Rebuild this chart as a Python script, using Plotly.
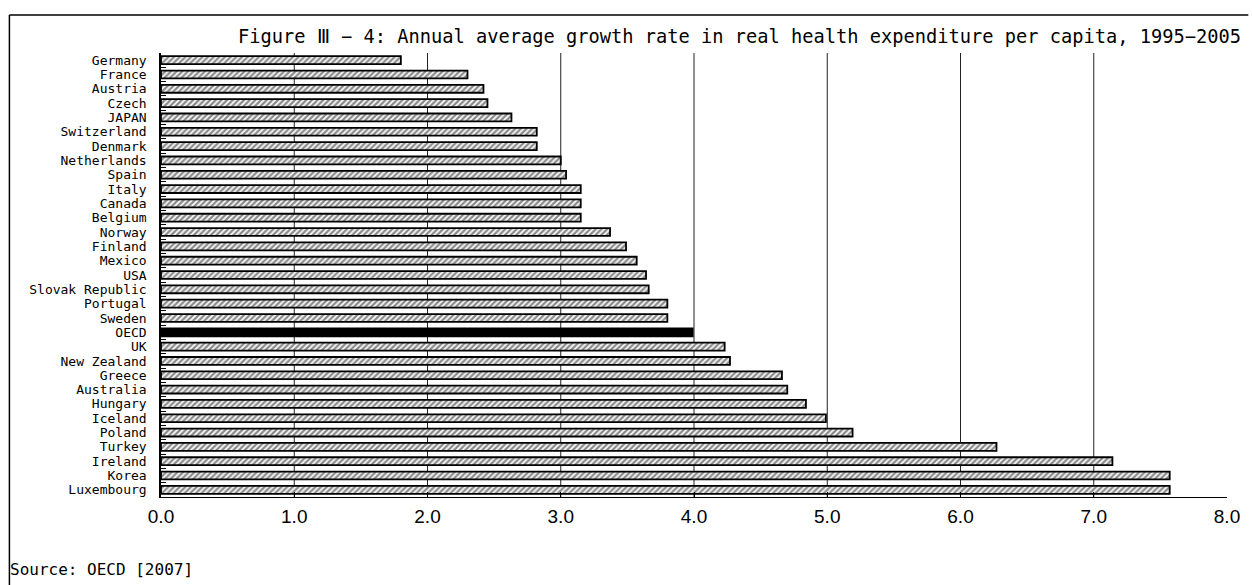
import plotly.graph_objects as go

# Annual average growth rate in real health expenditure per capita, 1995-2005 (%)
countries = [
    "Germany", "France", "Austria", "Czech", "JAPAN", "Switzerland", "Denmark",
    "Netherlands", "Spain", "Italy", "Canada", "Belgium", "Norway", "Finland",
    "Mexico", "USA", "Slovak Republic", "Portugal", "Sweden", "OECD", "UK",
    "New Zealand", "Greece", "Australia", "Hungary", "Iceland", "Poland",
    "Turkey", "Ireland", "Korea", "Luxembourg",
]
growth = [
    1.80, 2.30, 2.42, 2.45, 2.63, 2.82, 2.82,
    3.00, 3.04, 3.15, 3.15, 3.15, 3.37, 3.49,
    3.57, 3.64, 3.66, 3.80, 3.80, 3.99, 4.23,
    4.27, 4.66, 4.70, 4.84, 4.99, 5.19,
    6.27, 7.14, 7.57, 7.57,
]
x_ticks = [0, 1, 2, 3, 4, 5, 6, 7, 8]
grid_ticks = [1, 2, 3, 4, 5, 6, 7]
highlight = "OECD"

MONO_FONT = "DejaVu Sans Mono"
NARROW_FONT = "Liberation Sans Narrow, Liberation Sans, Arial"

hatched = [(c, v) for c, v in zip(countries, growth) if c != highlight]
solid = [(c, v) for c, v in zip(countries, growth) if c == highlight]

fig = go.Figure()
fig.add_trace(go.Bar(
    x=[v for _, v in hatched],
    y=[c for c, _ in hatched],
    orientation="h",
    marker=dict(
        color="white",
        line=dict(color="black", width=1.8),
        pattern=dict(shape="/", fgcolor="#1a1a1a", bgcolor="white",
                     size=4, solidity=0.6),
    ),
    showlegend=False,
    hoverinfo="x+y",
))
fig.add_trace(go.Bar(
    x=[v for _, v in solid],
    y=[c for c, _ in solid],
    orientation="h",
    marker=dict(color="black", line=dict(color="black", width=1.8)),
    showlegend=False,
    hoverinfo="x+y",
))

# vertical gridlines at the whole-number ticks inside the range
for g in grid_ticks:
    fig.add_shape(type="line", xref="x", yref="paper", x0=g, x1=g, y0=0, y1=1,
                  line=dict(color="#222222", width=1), layer="below")

# frame around the chart area (top and left edges)
fig.add_shape(type="line", xref="paper", yref="paper", x0=-0.1422, x1=1.02,
              y0=1.0856, y1=1.0856, line=dict(color="black", width=1.5))
fig.add_shape(type="line", xref="paper", yref="paper", x0=-0.1422, x1=-0.1422,
              y0=1.0856, y1=-0.25, line=dict(color="black", width=1.5))

fig.add_annotation(
    text="Figure Ⅲ − 4: Annual average growth rate in real health expenditure per capita, 1995−2005",
    xref="paper", yref="paper", x=1.015, y=1.038, xanchor="right", yanchor="middle",
    showarrow=False, font=dict(family=MONO_FONT, size=18.7, color="black"),
)
fig.add_annotation(
    text="Source: OECD [2007]",
    xref="paper", yref="paper", x=-0.1435, y=-0.164, xanchor="left", yanchor="middle",
    showarrow=False, font=dict(family=MONO_FONT, size=16, color="black"),
)

fig.update_layout(
    width=1252, height=585,
    margin=dict(l=161, r=15, t=53, b=88),
    paper_bgcolor="white", plot_bgcolor="white",
    bargap=0.45, barmode="overlay",
    xaxis=dict(
        range=[0, 8], tickvals=x_ticks, tickformat=".1f",
        showgrid=False, zeroline=False,
        showline=True, linecolor="black", linewidth=1,
        ticks="inside", ticklen=5, tickcolor="black",
        ticklabelstandoff=2,
        tickfont=dict(family=NARROW_FONT, size=19, color="black"),
    ),
    yaxis=dict(
        categoryorder="array", categoryarray=countries, autorange="reversed",
        tickmode="array", tickvals=countries, ticktext=countries,
        showline=True, linecolor="black", linewidth=1.5,
        showgrid=False, zeroline=False,
        ticks="inside", ticklen=5, tickcolor="black", tickson="boundaries",
        ticklabelstandoff=10,
        tickfont=dict(family=MONO_FONT, size=13, color="black"),
    ),
)

fig.write_html("out.html")
